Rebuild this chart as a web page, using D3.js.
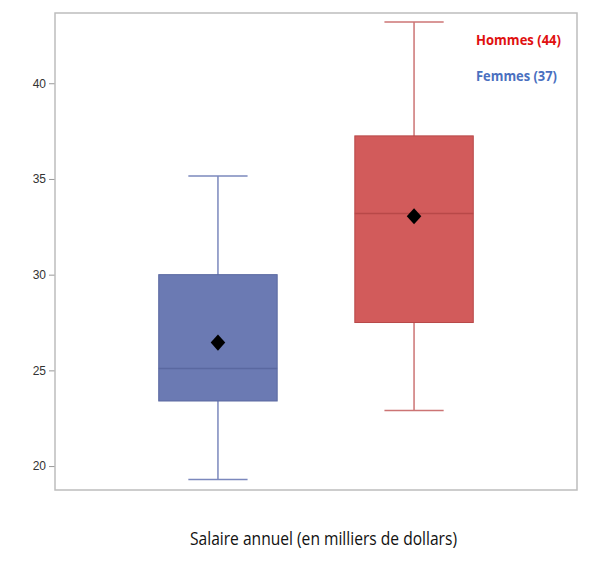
<!DOCTYPE html>
<html>
<head>
<meta charset="utf-8">
<script src="https://cdn.jsdelivr.net/npm/d3@7"></script>
<style>
  body { margin: 0; background: #fff; }
  .tick text { font-family: "Liberation Sans Narrow", "Arial Narrow", "Liberation Sans", sans-serif; font-size: 12px; fill: #333; }
</style>
</head>
<body>
<script>
// box plot values (thousands of dollars)
var groups = ["Femmes", "Hommes"];
var counts = [37, 44];
var whiskerLow = [19.3, 22.9];
var q1 = [23.4, 27.5];
var median = [25.1, 33.2];
var q3 = [30.0, 37.25];
var whiskerHigh = [35.15, 43.2];
var means = [26.45, 33.05];
var yTicks = [20, 25, 30, 35, 40];

var w = 599, h = 569;
var frame = { left: 55, top: 13, right: 577, bottom: 490 };

var fill = ["#6b7ab3", "#d25b5b"];
var lineColor = ["#5a68a0", "#b84848"];
var whiskerColor = ["#7b88bd", "#cc7474"];
var legendColor = ["#4a70c0", "#e01010"];

var svg = d3.select("body").append("svg")
    .attr("width", w)
    .attr("height", h);

// scales
var y = d3.scaleLinear()
    .domain([18.75, 43.67])
    .range([frame.bottom, frame.top]);

var x = d3.scaleBand()
    .domain(groups)
    .range([frame.left, frame.right])
    .paddingInner(0.396)
    .paddingOuter(0.529);

var boxW = x.bandwidth();
var capW = boxW * 0.5;

// y axis
var yAxis = d3.axisLeft(y)
    .tickValues(yTicks)
    .tickSize(6)
    .tickPadding(3);

var axis = svg.append("g")
    .attr("transform", "translate(" + frame.left + ",0)")
    .call(yAxis);
axis.select(".domain").remove();
axis.selectAll(".tick line").attr("stroke", "#999");

// frame
svg.append("rect")
    .attr("x", frame.left)
    .attr("y", frame.top)
    .attr("width", frame.right - frame.left)
    .attr("height", frame.bottom - frame.top)
    .attr("fill", "none")
    .attr("stroke", "#bdbdbd")
    .attr("stroke-width", 1.5);

var boxes = svg.selectAll(".box")
    .data(groups)
    .enter()
    .append("g")
    .attr("class", "box");

// whisker stems
boxes.append("line")
    .attr("x1", function(d){ return x(d) + boxW / 2; })
    .attr("x2", function(d){ return x(d) + boxW / 2; })
    .attr("y1", function(d, i){ return y(whiskerLow[i]); })
    .attr("y2", function(d, i){ return y(whiskerHigh[i]); })
    .attr("stroke", function(d, i){ return whiskerColor[i]; })
    .attr("stroke-width", 1.5);

// caps
[whiskerLow, whiskerHigh].forEach(function(arr){
    boxes.append("line")
        .attr("x1", function(d){ return x(d) + boxW / 2 - capW / 2; })
        .attr("x2", function(d){ return x(d) + boxW / 2 + capW / 2; })
        .attr("y1", function(d, i){ return y(arr[i]); })
        .attr("y2", function(d, i){ return y(arr[i]); })
        .attr("stroke", function(d, i){ return whiskerColor[i]; })
        .attr("stroke-width", 1.5);
});

// boxes
boxes.append("rect")
    .attr("x", function(d){ return x(d); })
    .attr("y", function(d, i){ return y(q3[i]); })
    .attr("width", boxW)
    .attr("height", function(d, i){ return y(q1[i]) - y(q3[i]); })
    .attr("fill", function(d, i){ return fill[i]; })
    .attr("stroke", function(d, i){ return lineColor[i]; })
    .attr("stroke-width", 1);

// median
boxes.append("line")
    .attr("x1", function(d){ return x(d); })
    .attr("x2", function(d){ return x(d) + boxW; })
    .attr("y1", function(d, i){ return y(median[i]); })
    .attr("y2", function(d, i){ return y(median[i]); })
    .attr("stroke", function(d, i){ return lineColor[i]; })
    .attr("stroke-width", 1.5);

// mean diamond
var diamond = d3.symbol().type(d3.symbolDiamond2).size(150);
boxes.append("path")
    .attr("d", diamond)
    .attr("transform", function(d, i){
        return "translate(" + (x(d) + boxW / 2) + "," + y(means[i]) + ") scale(0.95,1.05)";
    })
    .attr("fill", "#000");

// legend text, Hommes on top
var legendOrder = [1, 0];
svg.selectAll(".legend")
    .data(legendOrder)
    .enter()
    .append("text")
    .attr("class", "legend")
    .attr("x", 476)
    .attr("y", function(d, i){ return 45 + i * 36; })
    .attr("textLength", function(d){ return d === 1 ? 85 : 81; })
    .attr("lengthAdjust", "spacingAndGlyphs")
    .style("font-family", "'Open Sans', 'Liberation Sans', sans-serif")
    .style("font-weight", "bold")
    .style("font-size", "15px")
    .style("fill", function(d){ return legendColor[d]; })
    .text(function(d){ return groups[d] + " (" + counts[d] + ")"; });

// axis title
svg.append("text")
    .attr("x", 190)
    .attr("y", 545)
    .attr("textLength", 267)
    .attr("lengthAdjust", "spacingAndGlyphs")
    .style("font-family", "'Open Sans', 'Liberation Sans', sans-serif")
    .style("font-size", "18px")
    .style("fill", "#111")
    .text("Salaire annuel (en milliers de dollars)");
</script>
</body>
</html>
